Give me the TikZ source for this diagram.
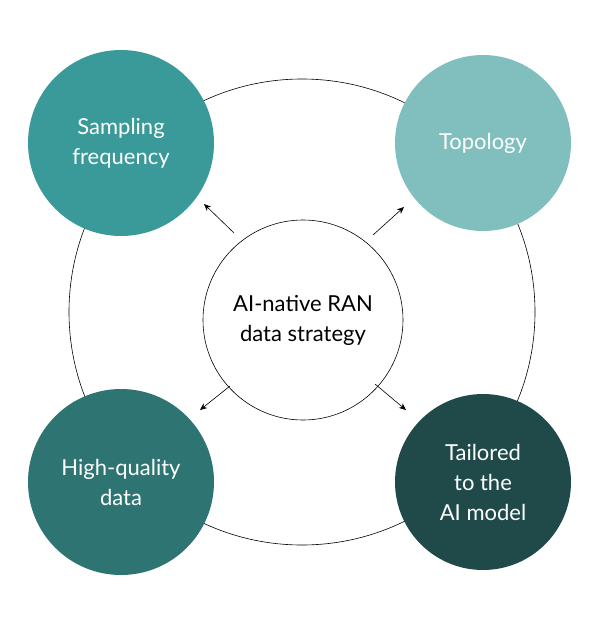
\documentclass[tikz,border=0pt]{standalone}
\usepackage{fontspec}
\setmainfont{Lato}
\usetikzlibrary{arrows.meta}
\definecolor{cA}{HTML}{3A9A9A}
\definecolor{cB}{HTML}{80BFBD}
\definecolor{cC}{HTML}{2E7473}
\definecolor{cD}{HTML}{1F4A49}
\begin{document}
\begin{tikzpicture}[x=1pt,y=-1pt,
  sat/.style={circle,draw=none,minimum size=186pt,text=white,align=center,font=\fontsize{22}{30}\selectfont},
  arr/.style={-{Stealth[length=7pt,width=6pt]},line width=0.6pt}]
\useasboundingbox[fill=white] (0,0) rectangle (613,626);
\node[circle,draw,line width=0.6pt,minimum size=466pt] (ring) at (302,312) {};
\node[sat,fill=cA] (sf) at (121,143) {Sampling\\frequency};
\node[sat,fill=cB,minimum size=176pt] (to) at (483,143) {Topology};
\node[sat,fill=cC] (hq) at (121,482) {High-quality\\data};
\node[sat,fill=cD,minimum size=176pt] (ta) at (483,482) {Tailored\\to the\\AI model};
\node[circle,draw,fill=white,line width=0.6pt,minimum size=200pt,align=center,font=\fontsize{22}{30}\selectfont] (c) at (303,320) {AI-native RAN\\data strategy};
\coordinate (s1) at (234,233); \coordinate (s2) at (373,235);
\coordinate (s3) at (230,386); \coordinate (s4) at (375,384);
\coordinate (a1) at (204,204); \coordinate (a2) at (404,207);
\coordinate (a3) at (200,410); \coordinate (a4) at (406,410);
\draw[arr] (s1) -- (a1);
\draw[arr] (s2) -- (a2);
\draw[arr] (s3) -- (a3);
\draw[arr] (s4) -- (a4);
\end{tikzpicture}
\end{document}
